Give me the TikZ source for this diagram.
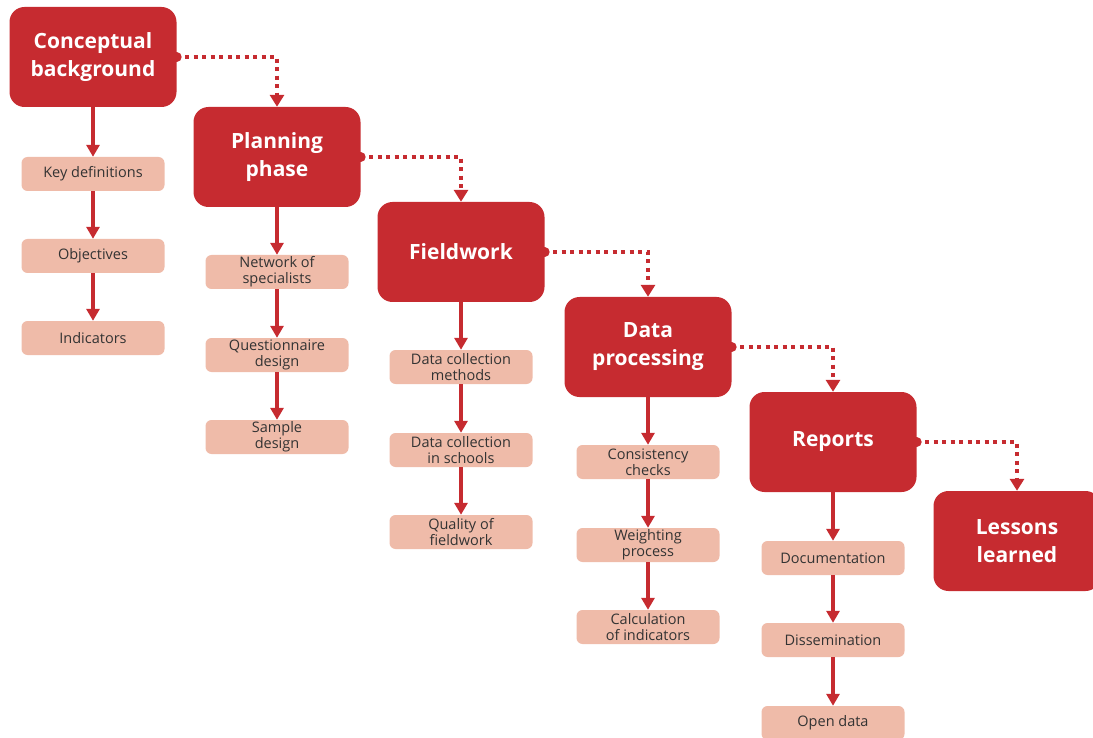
\documentclass[tikz,border=0pt]{standalone}
\usepackage{fontspec}
\setmainfont{Open Sans}
\usetikzlibrary{arrows.meta}
\definecolor{dred}{HTML}{C62B30}
\definecolor{salmon}{HTML}{EFBBA9}
\definecolor{txtc}{HTML}{333333}
\begin{document}
\begin{tikzpicture}[x=1pt,y=-1pt,
  bigbox/.style={fill=dred, rounded corners=15pt, minimum width=167pt, minimum height=100pt, text=white, font=\bfseries\fontsize{21}{28}\selectfont, align=center, inner sep=0pt},
  smallbox/.style={fill=salmon, rounded corners=6pt, minimum width=143pt, minimum height=34pt, text=txtc, font=\fontsize{14.5}{16}\selectfont, align=center, inner sep=0pt},
  solidarr/.style={draw=dred, line width=4pt, -{Triangle[width=13pt,length=12pt]}},
  dotarr/.style={draw=dred, line width=4pt, dash pattern=on 4pt off 4.5pt, -{Triangle[width=14pt,length=12pt]}},
  startdot/.style={fill=dred}]
\useasboundingbox (0,0) rectangle (1093,738);
% big boxes
\node[bigbox] (cb) at (93,57) {Conceptual\\background};
\node[bigbox] (pp) at (277,157) {Planning\\phase};
\node[bigbox] (fw) at (461,252) {Fieldwork};
\node[bigbox] (dp) at (648,347) {Data\\processing};
\node[bigbox] (rp) at (833,442) {Reports};
\node[bigbox] (ll) at (1017,541) {Lessons\\learned};
% small boxes
\node[smallbox] (kd) at (93,174) {Key definitions};
\node[smallbox] (ob) at (93,256) {Objectives};
\node[smallbox] (in) at (93,338) {Indicators};
\node[smallbox] (ns) at (277,272) {Network of\\specialists};
\node[smallbox] (qd) at (277,355) {Questionnaire\\design};
\node[smallbox] (sd) at (277,437) {Sample\\design};
\node[smallbox] (dm) at (461,367) {Data collection\\methods};
\node[smallbox] (ds) at (461,450) {Data collection\\in schools};
\node[smallbox] (qf) at (461,532) {Quality of\\fieldwork};
\node[smallbox] (cc) at (648,462) {Consistency\\checks};
\node[smallbox] (wp) at (648,545) {Weighting\\process};
\node[smallbox] (ci) at (648,627) {Calculation\\of indicators};
\node[smallbox] (do) at (833,558) {Documentation};
\node[smallbox] (di) at (833,640) {Dissemination};
\node[smallbox] (od) at (833,723) {Open data};
% solid arrows
\foreach \a/\b in {cb/kd,kd/ob,ob/in,pp/ns,ns/qd,qd/sd,fw/dm,dm/ds,ds/qf,dp/cc,cc/wp,wp/ci,rp/do,do/di,di/od}
  \draw[solidarr] (\a.south) -- (\b.north);
% dotted arrows
\foreach \a/\b in {cb/pp,pp/fw,fw/dp,dp/rp,rp/ll}{
  \draw[dotarr] (\a.east) -| (\b.north);
  \fill[startdot] (\a.east) circle (5pt);
}
\end{tikzpicture}
\end{document}
